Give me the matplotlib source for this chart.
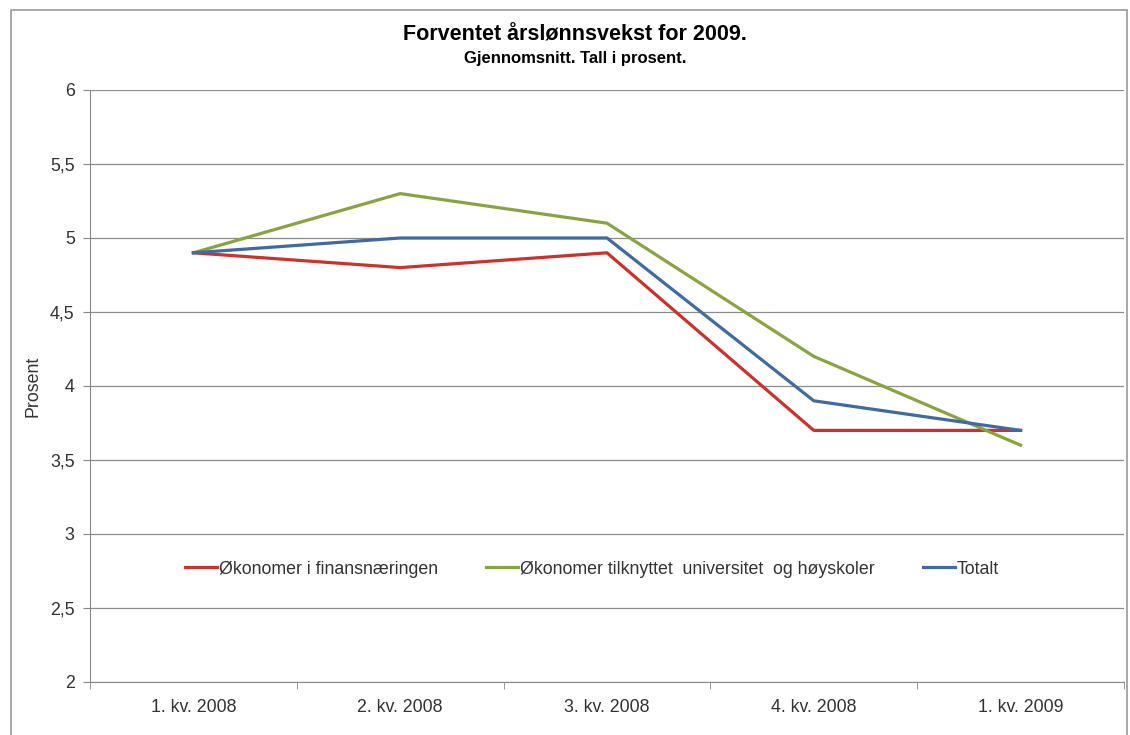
import matplotlib.pyplot as plt
import matplotlib.patches as patches
from matplotlib.ticker import FuncFormatter, MultipleLocator

plt.rcParams['font.family'] = ['Liberation Sans', 'DejaVu Sans']

kvartaler = ["1. kv. 2008", "2. kv. 2008", "3. kv. 2008", "4. kv. 2008", "1. kv. 2009"]
finans = [4.9, 4.8, 4.9, 3.7, 3.7]
universitet = [4.9, 5.3, 5.1, 4.2, 3.6]
totalt = [4.9, 5.0, 5.0, 3.9, 3.7]

fig = plt.figure(figsize=(11.3, 7.35), dpi=100)
ax = fig.add_axes([90/1130, 1-682/735, (1124-90)/1130, (682-90)/735])

x = range(len(kvartaler))
ax.plot(x, finans, color='#CC312B', lw=2.3, label="Økonomer i finansnæringen")
ax.plot(x, universitet, color='#88A441', lw=2.3, label="Økonomer tilknyttet  universitet  og høyskoler")
ax.plot(x, totalt, color='#3F6AA2', lw=2.3, label="Totalt")

ax.set_xlim(-0.5, len(kvartaler) - 0.5)
ax.set_ylim(2, 6)
ax.yaxis.set_major_locator(MultipleLocator(0.5))
ax.yaxis.set_major_formatter(FuncFormatter(lambda v, p: ('%g' % v).replace('.', ',')))
ax.set_xticks(list(x))
ax.set_xticklabels(kvartaler)
ax.set_xticks([i - 0.5 for i in range(len(kvartaler) + 1)], minor=True)
ax.tick_params(axis='x', which='major', length=0, pad=12, labelsize=12.8, colors='#333333')
ax.tick_params(axis='x', which='minor', length=5, color='#888888')
ax.tick_params(axis='y', length=5, color='#888888', labelsize=12.8, labelcolor='#333333', pad=6)
ax.grid(axis='y', color='#8c8c8c', lw=0.9)
ax.set_axisbelow(True)
for s in ['top', 'right']:
    ax.spines[s].set_visible(False)
ax.spines['left'].set_color('#888888')
ax.spines['bottom'].set_color('#888888')
ax.set_ylabel("Prosent", fontsize=12.8, labelpad=6, color='#333333')

fig.text(575/1130, 1-35/735, "Forventet årslønnsvekst for 2009.", ha='center', va='center',
         fontsize=15.5, fontweight='bold')
fig.text(575/1130, 1-59/735, "Gjennomsnitt. Tall i prosent.", ha='center', va='center',
         fontsize=12, fontweight='bold')

fig.legend(loc='center', bbox_to_anchor=(592/1130, 1-569/735), ncol=3, frameon=False,
           fontsize=12.8, handlelength=1.8, handletextpad=0.1, columnspacing=2.7,
           labelcolor='#333333')

fig.patches.append(patches.Rectangle((11/1130, -0.05), (1127-11)/1130, 1.05-10/735,
                                     transform=fig.transFigure, fill=False,
                                     edgecolor='#9a9a9a', lw=1.2))

fig.savefig("out.png", dpi=100)
